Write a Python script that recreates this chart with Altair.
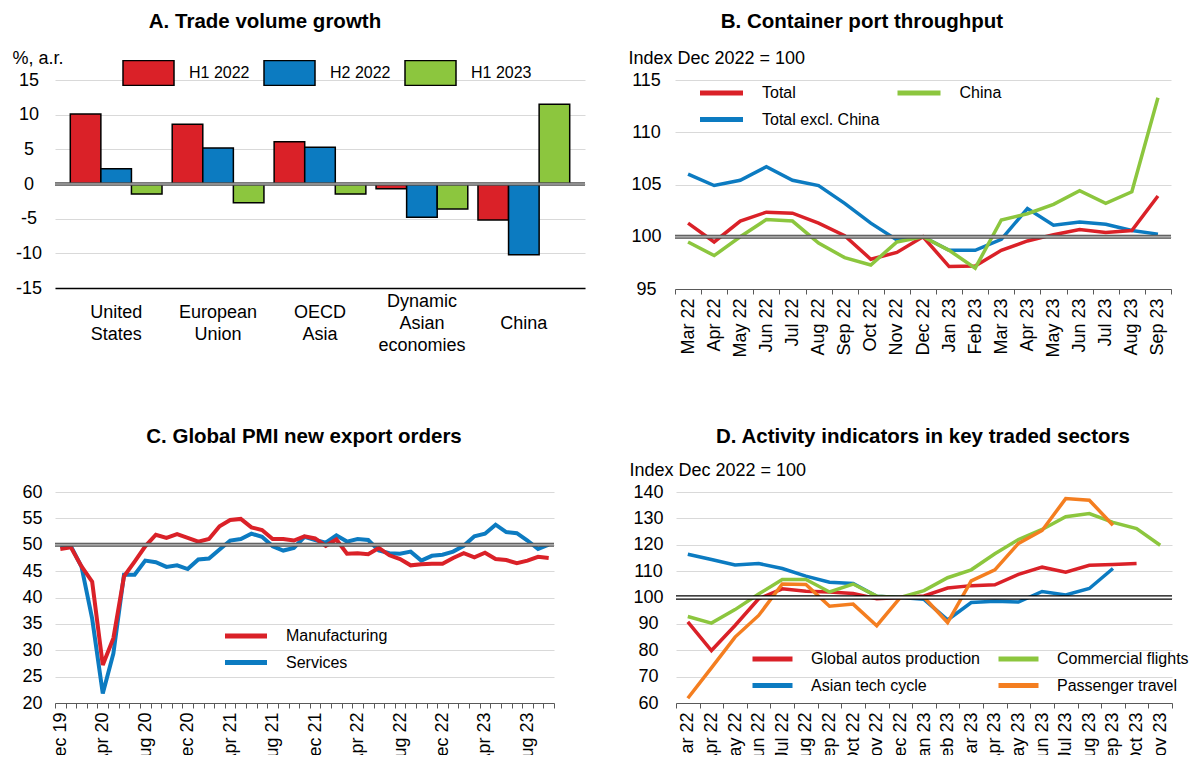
import altair as alt
import pandas as pd

FONT = "Liberation Sans"
RED, BLUE, GREEN, ORANGE = "#DA2128", "#0C7BC1", "#8CC63E", "#F47E20"
GRID = "#D9D9D9"
ZW = "\u200b"

# ---------------- Panel A: Trade volume growth ----------------
a_regions = ["United States", "European Union", "OECD Asia", "Dynamic Asian economies", "China"]
a_periods = ["H1 2022", "H2 2022", "H1 2023"]
a_h1_2022 = [10.1, 8.6, 6.1, -0.7, -5.2]
a_h2_2022 = [2.2, 5.2, 5.3, -4.8, -10.2]
a_h1_2023 = [-1.45, -2.7, -1.45, -3.6, 11.5]
a_ticks = [-15, -10, -5, 0, 5, 10, 15]
a_ref = [0]

# ---------------- Panel B: Container port throughput ----------------
b_months = ["Mar 22", "Apr 22", "May 22", "Jun 22", "Jul 22", "Aug 22", "Sep 22", "Oct 22",
            "Nov 22", "Dec 22", "Jan 23", "Feb 23", "Mar 23", "Apr 23", "May 23", "Jun 23",
            "Jul 23", "Aug 23", "Sep 23"]
b_series = ["Total", "China", "Total excl. China"]
b_total = [101.3, 99.5, 101.5, 102.35, 102.25, 101.3, 100.1, 97.85, 98.5, 100.0, 97.15, 97.2,
           98.7, 99.6, 100.2, 100.7, 100.4, 100.6, 103.9]
b_china = [99.5, 98.2, 100.0, 101.65, 101.5, 99.4, 98.0, 97.3, 99.5, 100.0, 98.7, 97.0,
           101.6, 102.2, 103.1, 104.4, 103.2, 104.3, 113.3]
b_excl = [106.0, 104.9, 105.4, 106.7, 105.4, 104.9, 103.2, 101.3, 99.7, 100.0, 98.7, 98.7,
          99.75, 102.7, 101.1, 101.4, 101.2, 100.6, 100.25]
b_ticks = [95, 100, 105, 110, 115]
b_ref = [100]

# ---------------- Panel C: Global PMI new export orders ----------------
c_months = ["Dec 19",
            "Jan 20", "Feb 20", "Mar 20", "Apr 20", "May 20", "Jun 20", "Jul 20", "Aug 20", "Sep 20", "Oct 20", "Nov 20", "Dec 20",
            "Jan 21", "Feb 21", "Mar 21", "Apr 21", "May 21", "Jun 21", "Jul 21", "Aug 21", "Sep 21", "Oct 21", "Nov 21", "Dec 21",
            "Jan 22", "Feb 22", "Mar 22", "Apr 22", "May 22", "Jun 22", "Jul 22", "Aug 22", "Sep 22", "Oct 22", "Nov 22", "Dec 22",
            "Jan 23", "Feb 23", "Mar 23", "Apr 23", "May 23", "Jun 23", "Jul 23", "Aug 23", "Sep 23", "Oct 23"]
c_labels = ["Dec 19", "Apr 20", "Aug 20", "Dec 20", "Apr 21", "Aug 21", "Dec 21", "Apr 22",
            "Aug 22", "Dec 22", "Apr 23", "Aug 23"]
c_series = ["Manufacturing", "Services"]
c_manuf = [49.2, 49.5, 45.9, 43.0, 27.2, 32.3, 44.0, 46.8, 49.7, 51.9, 51.3, 52.0, 51.3,
           50.6, 51.1, 53.5, 54.7, 54.9, 53.3, 52.8, 51.1, 51.1, 50.8, 51.6, 51.2,
           49.8, 51.0, 48.3, 48.4, 48.2, 49.4, 48.0, 47.3, 46.1, 46.3, 46.4, 46.4,
           47.5, 48.4, 47.6, 48.5, 47.3, 47.1, 46.5, 47.0, 47.7, 47.5]
c_serv = [49.7, 49.7, 45.8, 36.0, 21.8, 29.4, 44.3, 44.3, 47.0, 46.7, 45.8, 46.1, 45.4,
          47.2, 47.4, 49.1, 50.8, 51.1, 52.1, 51.5, 49.7, 48.9, 49.4, 51.5, 50.9,
          50.4, 51.8, 50.6, 51.1, 50.9, 48.9, 48.4, 48.3, 48.7, 47.0, 47.9, 48.1,
          48.7, 49.8, 51.6, 52.1, 53.8, 52.4, 52.2, 50.8, 49.2, 50.0]
c_ticks = [20, 25, 30, 35, 40, 45, 50, 55, 60]
c_ref = [50]

# ---------------- Panel D: Activity indicators in key traded sectors ----------------
d_months = ["Mar 22", "Apr 22", "May 22", "Jun 22", "Jul 22", "Aug 22", "Sep 22", "Oct 22",
            "Nov 22", "Dec 22", "Jan 23", "Feb 23", "Mar 23", "Apr 23", "May 23", "Jun 23",
            "Jul 23", "Aug 23", "Sep 23", "Oct 23", "Nov 23"]
d_series = ["Global autos production", "Commercial flights", "Asian tech cycle", "Passenger travel"]
d_autos = [90.8, 79.9, 89.4, 99.5, 103.3, 102.4, 102.1, 101.5, 99.5, 100.0, 100.6, 103.6,
           104.5, 104.8, 108.8, 111.5, 109.6, 112.2, 112.5, 112.9, None]
d_flights = [92.8, 90.3, 95.4, 101.3, 106.8, 106.8, 102.1, 105.1, 100.5, 100.0, 102.6, 107.5,
             110.5, 116.6, 122.0, 125.8, 130.6, 131.8, 128.5, 126.1, 119.8]
d_tech = [116.4, 114.4, 112.3, 112.9, 111.0, 108.1, 105.8, 105.3, 100.5, 100.0, 99.3, 91.5,
          98.1, 98.6, 98.3, 102.3, 101.0, 103.4, 111.0, None, None]
d_travel = [61.8, 73.3, 85.0, 93.2, 105.1, 104.9, 96.7, 97.5, 89.3, 100.0, 100.1, 90.5,
            106.3, 110.5, 120.5, 125.4, 137.5, 136.9, 127.4, None, None]
d_ticks = [60, 70, 80, 90, 100, 110, 120, 130, 140]
d_ref = [100]


def long_frame(months, series_names, series_values):
    rows = []
    for name, vals in zip(series_names, series_values):
        for m, v in zip(months, vals):
            if v is not None:
                rows.append({"month": m, "series": name, "value": v})
    return pd.DataFrame(rows)


def line_legend(x, y, cols, size, label_offset, col_pad):
    return alt.Legend(title=None, orient="none", legendX=x, legendY=y, columns=cols,
                      direction="horizontal", symbolType="stroke", symbolSize=size * size,
                      symbolStrokeWidth=5, labelFontSize=16, labelOffset=label_offset,
                      columnPadding=col_pad, rowPadding=6.5, clipHeight=20, padding=0,
                      labelLimit=300)


def month_axis(expr=None):
    kw = dict(title=None, labelAngle=270, tickBand="extent", tickSize=5, labelPadding=4,
              domainColor="#595959", tickColor="#595959", domainWidth=1.2, grid=False,
              labelOverlap=False, labelFontSize=18)
    if expr:
        kw["labelExpr"] = expr
    return alt.Axis(**kw)


def y_enc(ticks, pad, title=None, min_extent=None):
    kw = dict(values=ticks, labelAlign="center", labelPadding=pad, ticks=False, tickSize=0,
              domain=False, gridColor=GRID, labelOverlap=False, labelSeparation=0,
              labelExpr="toString(datum.value)")
    if title:
        kw.update(title=title, titleAngle=0, titleAlign="left", titleBaseline="alphabetic",
                  titleX=-47 if title.startswith("Index") else -43, titleY=-17)
    else:
        kw["title"] = None
    if min_extent is not None:
        kw["minExtent"] = min_extent
    return alt.Y("value:Q", scale=alt.Scale(domain=[ticks[0], ticks[-1]], zero=False, nice=False),
                 axis=alt.Axis(**kw))


def ref_rules(ref_values, yenc, outer, outer_w, inner, inner_w):
    base = alt.Chart(pd.DataFrame({"value": ref_values})).encode(y=yenc)
    return [base.mark_rule(color=outer, strokeWidth=outer_w),
            base.mark_rule(color=inner, strokeWidth=inner_w)]


# ---------- Panel A chart ----------
dfA = pd.DataFrame({
    "region": a_regions * 3,
    "period": [p for p in a_periods for _ in a_regions],
    "value": a_h1_2022 + a_h2_2022 + a_h1_2023,
})
# five-line category labels (words on lines 0/2/4, padded with invisible lines) so every
# label is vertically centred on the same line
cat_expr = (
    "split("
    "(length(split(datum.label, ' ')) == 1 ? '{z}|{z}|' : "
    "(length(split(datum.label, ' ')) == 2 ? '{z}|' : '')) + "
    "replace(datum.label, regexp(' ', 'g'), '|{z}|') + "
    "(length(split(datum.label, ' ')) == 1 ? '|{z}|{z}' : "
    "(length(split(datum.label, ' ')) == 2 ? '|{z}' : '')), '|')"
).format(z=ZW)
yA = y_enc(a_ticks, 26.5, "%, a.r.")
barsA = alt.Chart(dfA).mark_bar(stroke="black", strokeWidth=1.5).encode(
    x=alt.X("region:N", sort=a_regions,
            scale=alt.Scale(paddingInner=0.1, paddingOuter=0.15),
            axis=alt.Axis(title=None, labelAngle=0, labelExpr=cat_expr,
                          labelBaseline="middle", labelPadding=13, labelLineHeight=11,
                          ticks=False, domainColor="black", domainWidth=1.5,
                          labelFontSize=18, labelLimit=300)),
    xOffset=alt.XOffset("period:N", sort=a_periods),
    y=yA,
    color=alt.Color("period:N", sort=a_periods,
                    scale=alt.Scale(domain=a_periods, range=[RED, BLUE, GREEN]),
                    legend=alt.Legend(title=None, orient="none", legendX=67, legendY=-20,
                                      direction="horizontal", columns=3,
                                      symbolType="M-1,-0.49L1,-0.49L1,0.49L-1,0.49Z",
                                      symbolSize=2601, symbolStrokeColor="black",
                                      symbolStrokeWidth=1.5, labelFontSize=16,
                                      labelOffset=14, columnPadding=13, clipHeight=26,
                                      padding=0)),
)
chartA = alt.layer(barsA, *ref_rules(a_ref, yA, "#4d4d4d", 3.5, "#a6a6a6", 1.5)).properties(
    width=530, height=208,
    title=alt.TitleParams("A. Trade volume growth", anchor="middle", frame="group", dx=-55, offset=17),
)

# ---------- Panel B chart ----------
dfB = long_frame(b_months, ["Total excl. China", "Total", "China"], [b_excl, b_total, b_china])
yB = y_enc(b_ticks, 29, "Index Dec 2022 = 100")
linesB = alt.Chart(dfB).mark_line(strokeWidth=3.5).encode(
    x=alt.X("month:O", sort=b_months, bandPosition=0.5,
            scale=alt.Scale(type="band", domain=b_months, paddingInner=0, paddingOuter=0),
            axis=month_axis()),
    y=yB,
    color=alt.Color("series:N", scale=alt.Scale(domain=b_series, range=[RED, GREEN, BLUE]),
                    legend=line_legend(22.5, 3, 2, 43, 16.5, 15.5)),
)
chartB = alt.layer(linesB, *ref_rules(b_ref, yB, "#4d4d4d", 4, "#a6a6a6", 1.8)).properties(
    width=496, height=209,
    title=alt.TitleParams("B. Container port throughput", anchor="middle", frame="group", dx=-61, offset=17),
)

# ---------- Panel C chart ----------
dfC = long_frame(c_months, ["Services", "Manufacturing"], [c_serv, c_manuf])
keep = "[" + ",".join("'%s'" % m for m in c_labels) + "]"
yC = y_enc(c_ticks, 23, None, 40)
linesC = alt.Chart(dfC).mark_line(strokeWidth=4).encode(
    x=alt.X("month:O", sort=c_months, bandPosition=0.5,
            scale=alt.Scale(type="band", domain=c_months, paddingInner=0, paddingOuter=0),
            axis=month_axis("indexof(%s, datum.value) >= 0 ? datum.label : ''" % keep)),
    y=yC,
    color=alt.Color("series:N", scale=alt.Scale(domain=c_series, range=[RED, BLUE]),
                    legend=line_legend(167.5, 134, 1, 42, 16.5, 19)),
)
chartC = alt.layer(linesC, *ref_rules(c_ref, yC, "#4d4d4d", 4, "#a6a6a6", 1.8)).properties(
    width=499, height=211,
    title=alt.TitleParams("C. Global PMI new export orders", anchor="middle", frame="group", dx=-0.5, offset=36),
)

# ---------- Panel D chart ----------
dfD = long_frame(d_months, ["Asian tech cycle", "Global autos production", "Commercial flights", "Passenger travel"],
                 [d_tech, d_autos, d_flights, d_travel])
yD = y_enc(d_ticks, 28, "Index Dec 2022 = 100")
linesD = alt.Chart(dfD).mark_line(strokeWidth=3.5).encode(
    x=alt.X("month:O", sort=d_months, bandPosition=0.5,
            scale=alt.Scale(type="band", domain=d_months, paddingInner=0, paddingOuter=0),
            axis=month_axis()),
    y=yD,
    color=alt.Color("series:N", scale=alt.Scale(domain=d_series, range=[RED, GREEN, BLUE, ORANGE]),
                    legend=line_legend(74, 157, 2, 40, 16, 16)),
)
chartD = alt.layer(linesD, *ref_rules(d_ref, yD, "black", 4.5, "white", 2)).properties(
    width=496, height=211,
    title=alt.TitleParams("D. Activity indicators in key traded sectors", anchor="middle", frame="group", dx=-1, offset=14),
)

top = alt.hconcat(chartA, chartB, spacing=41).resolve_scale(color="independent").resolve_legend(color="independent")
bottom = alt.hconcat(chartC, chartD, spacing=71).resolve_scale(color="independent").resolve_legend(color="independent")

chart = alt.vconcat(top, bottom, spacing=68).resolve_scale(color="independent").resolve_legend(
    color="independent").properties(
    padding={"left": 4, "top": 3, "right": 0, "bottom": -17}
).configure(font=FONT).configure_view(stroke=None).configure_axis(
    labelFont=FONT, titleFont=FONT, labelColor="black", titleColor="black",
    titleFontWeight="normal", labelFontSize=18, titleFontSize=18, gridColor=GRID, gridWidth=1,
).configure_legend(labelFont=FONT, labelColor="black", labelFontSize=16).configure_title(
    font=FONT, fontSize=20.5, fontWeight="bold", color="black")

chart.save("out.html", embed_options={"renderer": "svg", "actions": False})
